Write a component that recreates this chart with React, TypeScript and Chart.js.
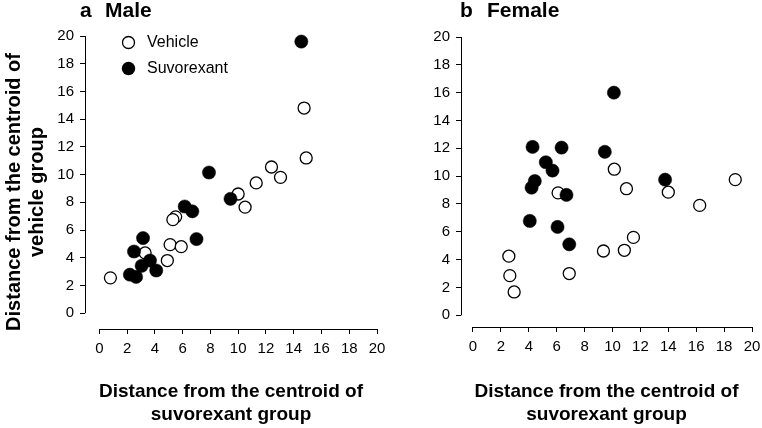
import React, { useEffect, useRef } from "react";
import { Chart, registerables } from "chart.js";

Chart.register(...registerables);

// ---- data ----
const TICK_VALUES = [0, 2, 4, 6, 8, 10, 12, 14, 16, 18, 20];
const SERIES_NAMES = ["Vehicle", "Suvorexant"];
const PANEL_LETTERS = ["a", "b"];
const PANEL_NAMES = ["Male", "Female"];
const X_TITLE = ["Distance from the centroid of", "suvorexant group"];
const Y_TITLE = ["Distance from the centroid of", "vehicle group"];

const maleVehicle: [number, number][] = [
  [0.8, 2.55], [14.9, 11.2], [12.4, 10.55], [13.05, 9.8], [11.3, 9.4],
  [10.0, 8.6], [10.5, 7.65], [5.5, 6.95], [5.3, 6.75], [5.1, 4.95],
  [5.9, 4.8], [4.9, 3.8], [3.3, 4.35], [14.75, 14.8],
];
const maleSuvorexant: [number, number][] = [
  [14.55, 19.6], [7.9, 10.15], [9.45, 8.25], [6.15, 7.7], [6.7, 7.35],
  [7.0, 5.35], [3.15, 5.42], [2.5, 4.45], [3.65, 3.8], [3.05, 3.42],
  [4.1, 3.08], [2.2, 2.78], [2.65, 2.62],
];
const femaleVehicle: [number, number][] = [
  [10.13, 10.5], [11.0, 9.1], [18.8, 9.75], [14.0, 8.85], [16.25, 7.9],
  [6.1, 8.8], [11.5, 5.6], [9.35, 4.62], [10.85, 4.67], [2.57, 4.25],
  [2.64, 2.85], [2.95, 1.68], [6.9, 3.0],
];
const femaleSuvorexant: [number, number][] = [
  [10.1, 16.0], [4.27, 12.1], [6.35, 12.05], [9.45, 11.75], [5.22, 11.0],
  [5.7, 10.4], [4.43, 9.65], [4.2, 9.17], [6.7, 8.65], [4.07, 6.78],
  [6.06, 6.35], [6.9, 5.1], [13.77, 9.75],
];

const FONT = "'Liberation Sans', Arial, Helvetica, sans-serif";

type Panel = {
  vehicle: [number, number][];
  suvorexant: [number, number][];
  letter: string;
  name: string;
  xMin: number;
  yMin: number;
  pad: { left: number; right: number; top: number; bottom: number };
  titleX: [number, number];
  legend: boolean;
  yTitle: boolean;
};

const panels: Panel[] = [
  {
    vehicle: maleVehicle,
    suvorexant: maleSuvorexant,
    letter: PANEL_LETTERS[0],
    name: PANEL_NAMES[0],
    xMin: -1.03,
    yMin: -1.14,
    pad: { left: 45, right: 385, top: 36, bottom: 59 },
    titleX: [80, 105],
    legend: true,
    yTitle: true,
  },
  {
    vehicle: femaleVehicle,
    suvorexant: femaleSuvorexant,
    letter: PANEL_LETTERS[1],
    name: PANEL_NAMES[1],
    xMin: -0.86,
    yMin: -0.84,
    pad: { left: 421, right: 10, top: 37, bottom: 61 },
    titleX: [460, 487],
    legend: false,
    yTitle: false,
  },
];

const align = (p: number) => Math.round(p - 0.5) + 0.5;

function makeTextPlugin(panel: Panel) {
  return {
    id: "panelText",
    afterDraw(chart: any) {
      const ctx: CanvasRenderingContext2D = chart.ctx;
      const xs = chart.scales.x;
      const ys = chart.scales.y;
      const area = chart.chartArea;
      ctx.save();
      // axis lines (range 0..20 only, offset style)
      ctx.strokeStyle = "#000";
      ctx.lineWidth = 1;
      const lx = align(area.left);
      const by = align(area.bottom);
      ctx.beginPath();
      ctx.moveTo(lx, ys.getPixelForValue(0));
      ctx.lineTo(lx, ys.getPixelForValue(20));
      ctx.moveTo(xs.getPixelForValue(0), by);
      ctx.lineTo(xs.getPixelForValue(20), by);
      ctx.stroke();

      ctx.fillStyle = "#000";
      // panel title
      ctx.font = `bold 21px ${FONT}`;
      ctx.textBaseline = "alphabetic";
      ctx.textAlign = "left";
      ctx.fillText(panel.letter, panel.titleX[0], 17);
      ctx.fillText(panel.name, panel.titleX[1], 17);

      // x axis title
      ctx.font = `bold 19px ${FONT}`;
      ctx.textAlign = "center";
      const cx = (area.left + area.right) / 2;
      ctx.fillText(X_TITLE[0], cx, 397);
      ctx.fillText(X_TITLE[1], cx, 420);

      // y axis title
      if (panel.yTitle) {
        ctx.save();
        ctx.translate(0, 192);
        ctx.rotate(-Math.PI / 2);
        ctx.font = `bold 20px ${FONT}`;
        ctx.textAlign = "center";
        ctx.textBaseline = "middle";
        ctx.fillText(Y_TITLE[0], 0, 14);
        ctx.fillText(Y_TITLE[1], 0, 37);
        ctx.restore();
      }

      // legend
      if (panel.legend) {
        const lxp = 128.5;
        const rows = [42.5, 68.5];
        ctx.lineWidth = 1.3;
        ctx.beginPath();
        ctx.arc(lxp, rows[0], 6, 0, Math.PI * 2);
        ctx.fillStyle = "#fff";
        ctx.fill();
        ctx.strokeStyle = "#000";
        ctx.stroke();
        ctx.beginPath();
        ctx.arc(lxp, rows[1], 6.7, 0, Math.PI * 2);
        ctx.fillStyle = "#000";
        ctx.fill();
        ctx.font = `16px ${FONT}`;
        ctx.textAlign = "left";
        ctx.textBaseline = "middle";
        ctx.fillText(SERIES_NAMES[0], 147, rows[0] + 0.5);
        ctx.fillText(SERIES_NAMES[1], 147, rows[1] + 0.5);
      }
      ctx.restore();
    },
  };
}

function makeScale(min: number, fixed: (s: any) => void) {
  return {
    type: "linear" as const,
    min,
    max: 20,
    afterBuildTicks: (scale: any) => {
      scale.ticks = TICK_VALUES.map((v) => ({ value: v }));
    },
    afterFit: (scale: any) => {
      fixed(scale);
      scale.paddingLeft = 0;
      scale.paddingRight = 0;
      scale.paddingTop = 0;
      scale.paddingBottom = 0;
    },
    grid: {
      display: true,
      drawOnChartArea: false,
      drawTicks: true,
      tickLength: 5,
      color: "#000",
      lineWidth: 1,
    },
    border: { display: false },
    ticks: {
      color: "#000",
      font: { family: FONT, size: 15 },
      padding: 6,
      maxRotation: 0,
      minRotation: 0,
      autoSkip: false,
      callback: (v: any) => String(v),
    },
  };
}

function PanelChart({ panel }: { panel: Panel }) {
  const ref = useRef<HTMLCanvasElement | null>(null);
  useEffect(() => {
    if (!ref.current) return;
    const chart = new Chart(ref.current, {
      type: "scatter",
      data: {
        datasets: [
          {
            label: SERIES_NAMES[0],
            data: panel.vehicle.map(([x, y]) => ({ x, y })),
            pointRadius: 6,
            pointHoverRadius: 6,
            pointBackgroundColor: "#fff",
            pointBorderColor: "#000",
            pointBorderWidth: 1.3,
            clip: false,
            order: 2,
          } as any,
          {
            label: SERIES_NAMES[1],
            data: panel.suvorexant.map(([x, y]) => ({ x, y })),
            pointRadius: 6.6,
            pointHoverRadius: 6.6,
            pointBackgroundColor: "#000",
            pointBorderColor: "#000",
            pointBorderWidth: 0.5,
            clip: false,
            order: 1,
          } as any,
        ],
      },
      options: {
        animation: false,
        responsive: false,
        devicePixelRatio: 1,
        events: [],
        layout: { autoPadding: false, padding: panel.pad },
        plugins: {
          legend: { display: false },
          tooltip: { enabled: false },
          title: { display: false },
        },
        scales: {
          x: makeScale(panel.xMin, (s) => {
            s.height = 40;
          }),
          y: makeScale(panel.yMin, (s) => {
            s.width = 40;
          }),
        },
      } as any,
      plugins: [makeTextPlugin(panel)],
    });
    return () => chart.destroy();
  }, [panel]);
  return (
    <canvas
      ref={ref}
      width={762}
      height={428}
      style={{ position: "absolute", left: 0, top: 0, width: 762, height: 428 }}
    />
  );
}

export default function App() {
  return (
    <div
      style={{
        position: "absolute",
        left: 0,
        top: 0,
        width: 762,
        height: 428,
        background: "#fff",
        overflow: "hidden",
      }}
    >
      {panels.map((p, i) => (
        <PanelChart key={i} panel={p} />
      ))}
    </div>
  );
}
